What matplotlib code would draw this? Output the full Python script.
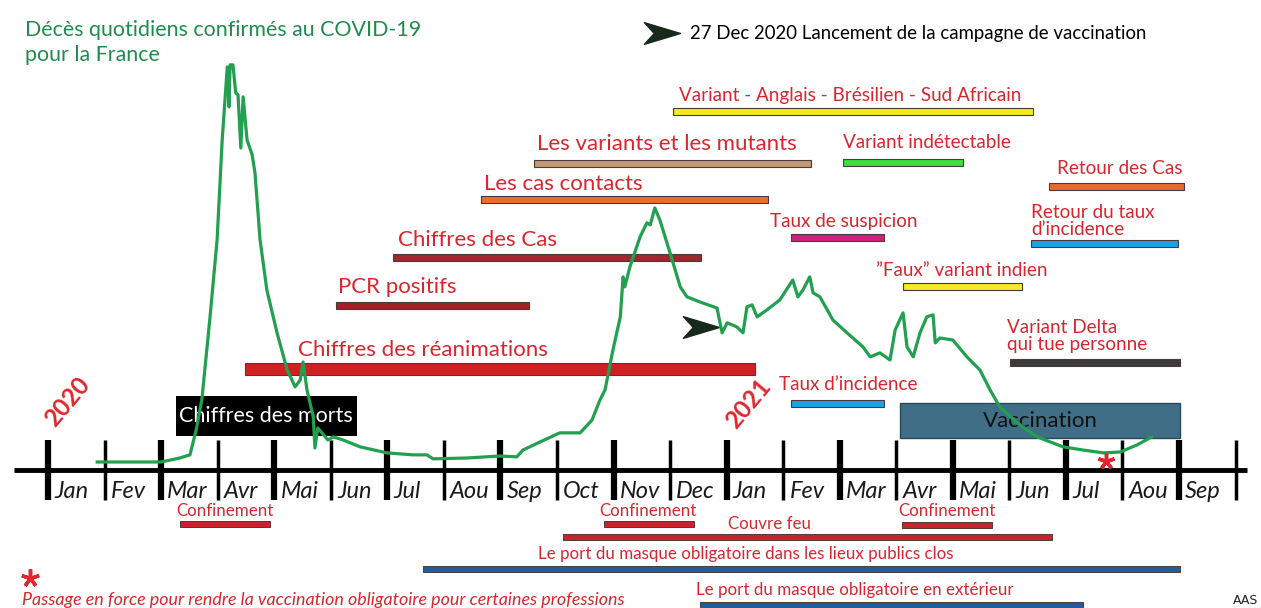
import matplotlib
matplotlib.use('Agg')
import matplotlib.pyplot as plt
from matplotlib.path import Path

plt.rcParams['font.family'] = ['Lato', 'DejaVu Sans']

# x unit = month index, 0 = janvier 2020
month_labels = ['Jan', 'Fev', 'Mar', 'Avr', 'Mai', 'Jun', 'Jul', 'Aou', 'Sep', 'Oct', 'Nov', 'Dec',
                'Jan', 'Fev', 'Mar', 'Avr', 'Mai', 'Jun', 'Jul', 'Aou', 'Sep']

# daily deaths curve
curve_month = [0.87, 2.00, 2.33, 2.51, 2.62, 2.72, 2.86, 2.99, 3.08, 3.17,
               3.20, 3.22, 3.27, 3.32, 3.36, 3.41, 3.45, 3.52, 3.61, 3.66,
               3.75, 3.87, 4.05, 4.23, 4.37, 4.46, 4.51, 4.58, 4.69, 4.72,
               4.77, 4.95, 5.04, 5.22, 5.52, 5.99, 6.45, 6.70, 6.81, 7.41,
               7.99, 8.29, 8.40, 8.70, 9.05, 9.41, 9.62, 9.76, 9.85, 9.99,
               10.12, 10.17, 10.20, 10.29, 10.47, 10.59, 10.65, 10.73, 10.82, 11.00,
               11.18, 11.30, 11.53, 11.83, 11.92, 12.01, 12.18, 12.29, 12.36, 12.45,
               12.54, 12.71, 12.94, 13.17, 13.26, 13.35, 13.47, 13.53, 13.65, 13.88,
               14.13, 14.41, 14.54, 14.71, 14.89, 14.98, 15.12, 15.19, 15.30, 15.42,
               15.54, 15.65, 15.69, 15.77, 16.00, 16.25, 16.48, 16.66, 16.83, 17.14,
               17.49, 17.95, 18.30, 18.66, 18.96, 19.26, 19.52]
curve_deaths = [0, 0, 14, 25, 112, 217, 497, 777, 1127, 1383,
                1243, 1390, 1390, 1292, 1285, 1099, 1278, 1127, 1075, 1012,
                777, 602, 452, 322, 263, 287, 350, 252, 158, 49,
                119, 77, 88, 77, 53, 32, 25, 25, 11, 14,
                21, 18, 42, 70, 102, 102, 147, 217, 252, 392,
                508, 648, 613, 683, 788, 837, 830, 889, 847, 732,
                613, 578, 560, 539, 452, 487, 473, 452, 543, 550,
                508, 532, 567, 637, 578, 602, 648, 592, 578, 497,
                452, 403, 368, 382, 357, 462, 522, 403, 368, 452,
                508, 515, 417, 434, 427, 368, 322, 252, 193, 137,
                88, 53, 42, 32, 35, 60, 88]

# periods shown above the axis
top_labels = ['Variant - Anglais - Brésilien - Sud Africain', 'Les variants et les mutants',
              'Variant indétectable', 'Retour des Cas', 'Les cas contacts', 'Taux de suspicion',
              'Retour du taux\nd\u2019incidence', 'Chiffres des Cas', '\u201dFaux\u201d variant indien',
              'PCR positifs', 'Variant Delta\nqui tue personne', 'Chiffres des réanimations',
              'Taux d\u2019incidence']
top_start = [11.05, 8.59, 14.06, 17.70, 7.66, 13.14, 17.38, 6.10, 15.12, 5.09, 17.01, 3.48, 13.14]
top_end = [17.42, 13.49, 16.18, 20.09, 12.73, 14.78, 19.98, 11.55, 17.22, 8.51, 20.02, 12.50, 14.78]

# measures shown under the axis
bottom_labels = ['Confinement', 'Confinement', 'Confinement', 'Couvre feu',
                 'Le port du masque obligatoire dans les lieux publics clos',
                 'Le port du masque obligatoire en extérieur']
bottom_start = [2.33, 9.83, 15.10, 9.11, 6.63, 11.53]
bottom_end = [3.93, 11.42, 16.69, 17.75, 20.02, 18.30]

morts_period = (2.26, 5.46)
vaccination_period = (15.07, 20.02)
vaccination_launch = 11.87    # 27 Dec 2020
obligation_month = 18.71

# ---- layout (y in pixels from the top) ----
top_bar_y = [111, 163, 162, 186, 199, 237, 243, 257, 286, 305, 362, 369, 403]
top_text_y = [95, 144, 143, 168, 184, 221, 221, 240, 270, 287, 336, 350, 384]
top_text_x = [11.16, 8.65, 14.06, 17.84, 7.71, 12.77, 17.38, 6.19, 14.64, 5.13, 16.96, 4.42, 12.93]
top_colors = ['#f4ea1c', '#c49a74', '#3ddf3a', '#ea6a2a', '#ec6e2c', '#d0207f', '#1ca2e6',
              '#9a2a2e', '#f4ec22', '#9e2327', '#3a3a3a', '#d41f22', '#1ca2e6']
top_sizes = [13.6, 16, 13.6, 13.6, 16, 13.6, 13.6, 16, 13.6, 16, 13.6, 16, 13.6]
top_thick = [7, 7, 7, 7, 7, 7, 7, 7, 7, 7, 7, 12, 7]

bottom_bar_y = [524, 524, 525, 537, 569, 605]
bottom_text_y = [511, 511, 511, 524, 554, 590]
bottom_text_x = [3.13, 10.61, 15.90, 12.75, 12.33, 14.27]
bottom_colors = ['#c8232c', '#c8232c', '#c8232c', '#c8232c', '#1f5e9e', '#1f5e9e']

red_text = '#d8262f'

fig = plt.figure(figsize=(12.61, 6.08), dpi=100)
ax = fig.add_axes([0, 0, 1, 1])
ax.set_xlim(-0.849, 21.45)
ax.set_ylim(608, 0)
ax.axis('off')

# timeline axis
ax.hlines(470, -0.60, 21.20, color='black', lw=3.5, zorder=3)
for i in range(len(month_labels) + 1):
    ax.vlines(i, 440, 500, color='black', lw=4.5 if i % 2 == 0 else 2.5, zorder=3)
for i, lab in enumerate(month_labels):
    ax.text(i + 0.11, 492, lab, ha='left', va='center', fontsize=17,
            style='italic', color='#1a1a1a')

ax.text(0.35, 402, '2020', rotation=50, ha='center', va='center', fontsize=17.5,
        fontweight='bold', color='#e0262e')
ax.text(12.38, 404, '2021', rotation=50, ha='center', va='center', fontsize=17.5,
        fontweight='bold', color='#e0262e')

# top bars
for i, lab in enumerate(top_labels):
    ax.barh(top_bar_y[i], top_end[i] - top_start[i], left=top_start[i], height=top_thick[i],
            color=top_colors[i], edgecolor='#4a3a3a', lw=0.8)
    ax.text(top_text_x[i], top_text_y[i], lab, ha='left', va='center',
            fontsize=top_sizes[i], color=red_text, linespacing=0.95)

# bottom bars
for i, lab in enumerate(bottom_labels):
    ax.barh(bottom_bar_y[i], bottom_end[i] - bottom_start[i], left=bottom_start[i], height=6,
            color=bottom_colors[i], edgecolor='#3a2a2a', lw=0.6)
    ax.text(bottom_text_x[i], bottom_text_y[i], lab, ha='center', va='center',
            fontsize=12.2, color=red_text)

# boxes
ax.barh(416, morts_period[1] - morts_period[0], left=morts_period[0], height=40, color='black')
ax.text(sum(morts_period) / 2, 416, 'Chiffres des morts', ha='center', va='center',
        fontsize=15.5, color='white')
ax.barh(420.5, vaccination_period[1] - vaccination_period[0], left=vaccination_period[0],
        height=35, color='#3f6e86', edgecolor='#2a4a5a', lw=1)
ax.text(sum(vaccination_period) / 2, 421, 'Vaccination', ha='center', va='center',
        fontsize=16, color='#111111')

# dart arrows
dart = Path([(0, 0), (-2, -0.6), (-1.45, 0), (-2, 0.6), (0, 0)],
            [Path.MOVETO, Path.LINETO, Path.LINETO, Path.LINETO, Path.CLOSEPOLY])
ax.plot([vaccination_launch], [327], marker=dart, markersize=52, color='#16291a', ls='none')
ax.plot([11.18], [33], marker=dart, markersize=52, color='#16291a', ls='none')
ax.text(11.35, 33, '27 Dec 2020 Lancement de la campagne de vaccination', ha='left',
        va='center', fontsize=13.4, color='black')

# title
ax.text(-0.41, 20, 'Décès quotidiens confirmés au COVID-19\npour la France', ha='left',
        va='top', fontsize=15.4, color='#1f8c4d', linespacing=1.3)

# footnote
ax.plot([-0.32], [578], marker=(5, 2, 0), markersize=13, mew=2.5, color='#e0262e', ls='none')
ax.text(-0.46, 600, 'Passage en force pour rendre la vaccination obligatoire pour certaines professions',
        ha='left', va='center', fontsize=12.9, style='italic', color=red_text)
ax.text(21.40, 601, 'AAS', ha='right', va='center', fontsize=9, color='#222222',
        family='DejaVu Sans')

# deaths curve on its own scale
ax2 = ax.twinx()
ax2.set_ylim(-511, 1617)
ax2.axis('off')
ax2.plot(curve_month, curve_deaths, color='#21a04f', lw=2.3, solid_joinstyle='round')
ax2.plot([obligation_month], [5], marker=(5, 2, 0), markersize=12, mew=2.5,
         color='#e0262e', ls='none')

fig.savefig('out.png', dpi=100)
